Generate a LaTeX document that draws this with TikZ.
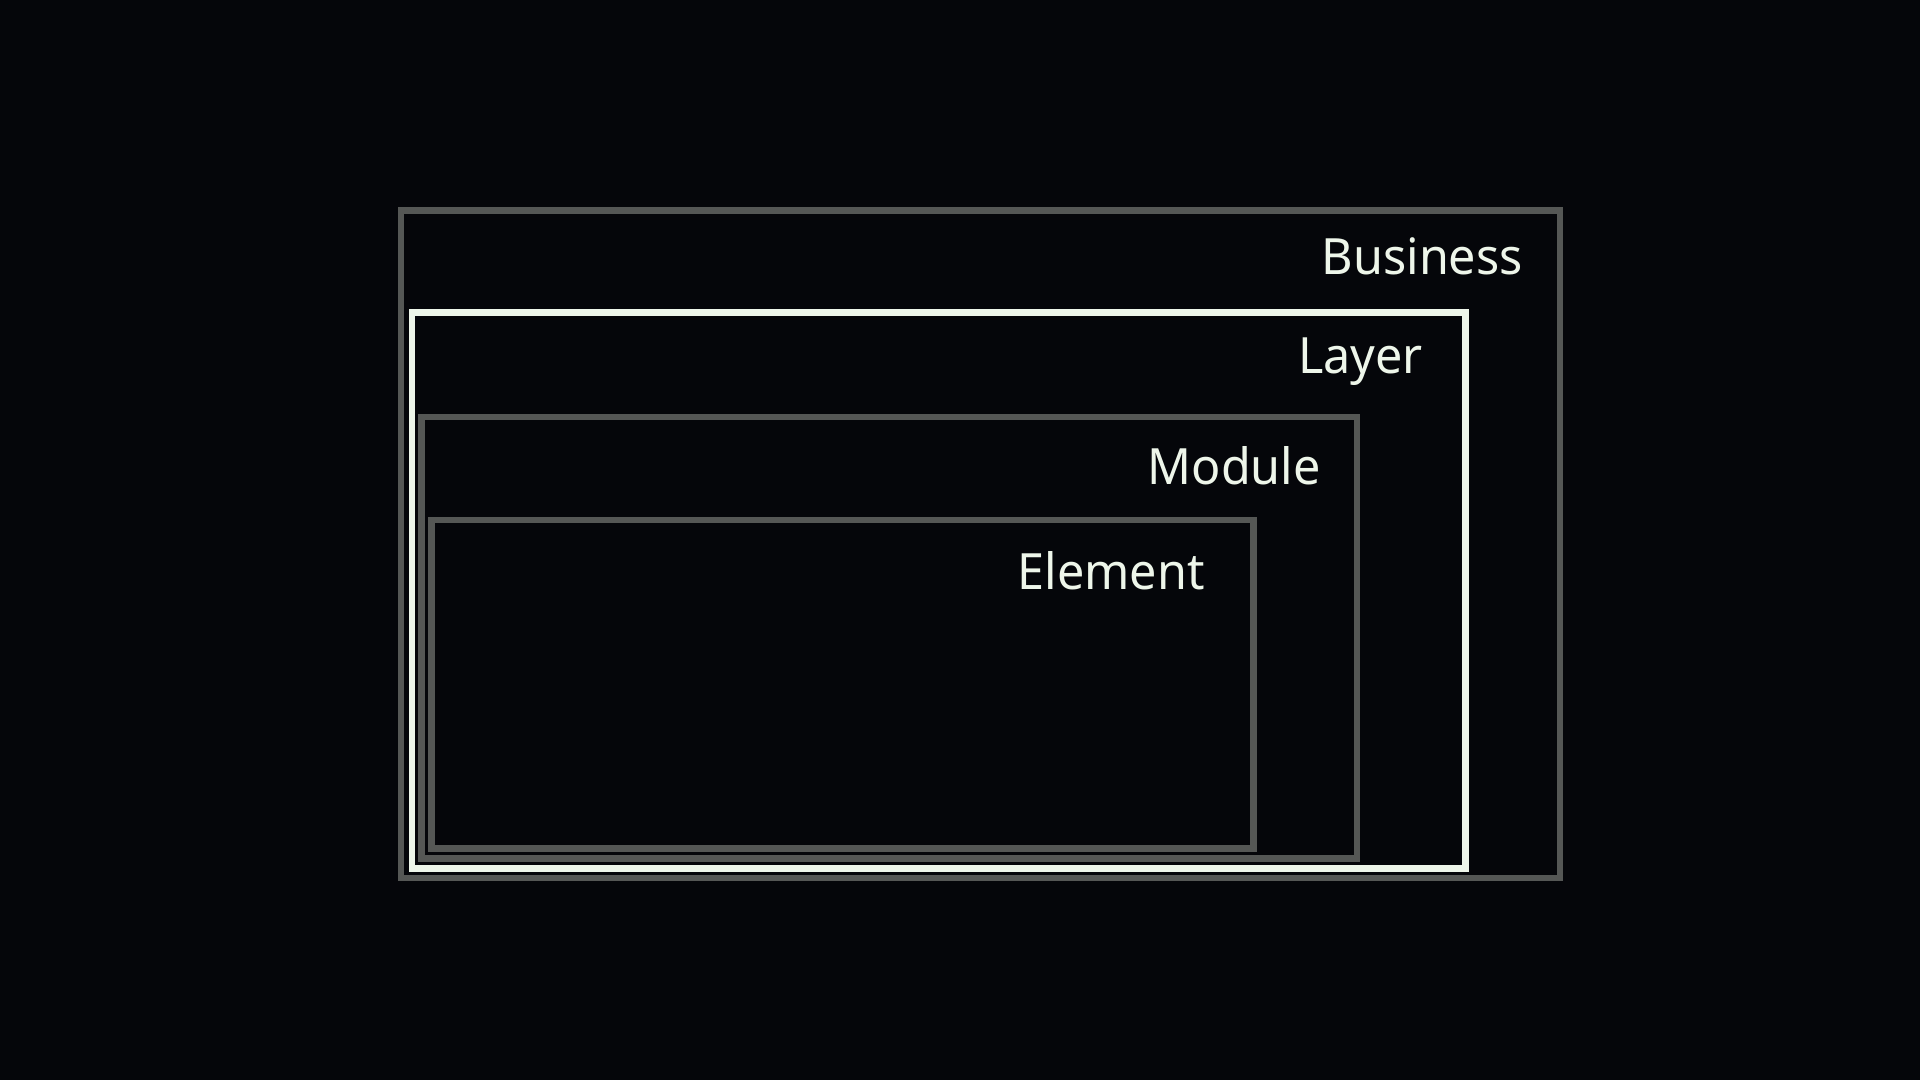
\documentclass[tikz,border=0pt]{standalone}
\usepackage{fontspec}
\setmainfont[FakeStretch=0.97]{Noto Sans}
\definecolor{bg}{HTML}{05060A}
\definecolor{boxgray}{HTML}{555755}
\definecolor{boxwhite}{HTML}{EEF6EA}
\tikzset{
  box/.style={draw=boxgray, line width=6.5pt, inner sep=0pt, rectangle},
  wbox/.style={box, draw=boxwhite},
  lbl/.style={text=boxwhite, font=\fontsize{50}{60}\selectfont, anchor=base east, inner sep=0pt}
}
\begin{document}
\begin{tikzpicture}[x=1pt, y=-1pt]
  \fill[bg] (0,0) rectangle (1920,1080);
  \useasboundingbox (0,0) rectangle (1920,1080);
  \node[box, minimum width=1159pt, minimum height=667.5pt] (business) at (980.5,544.25) {};
  \node[wbox, minimum width=1053.5pt, minimum height=556pt] (layer) at (938.75,590.5) {};
  \node[box, minimum width=935.5pt, minimum height=441.5pt] (module) at (889.25,637.75) {};
  \node[box, minimum width=822pt, minimum height=328.5pt] (element) at (842.5,684.25) {};
  \node[lbl] (tbusiness) at (1523,274) {Business};
  \node[lbl] (tlayer) at (1423,373) {Layer};
  \node[lbl] (tmodule) at (1321,484) {Module};
  \node[lbl] (telement) at (1205,589) {Element};
\end{tikzpicture}
\end{document}
